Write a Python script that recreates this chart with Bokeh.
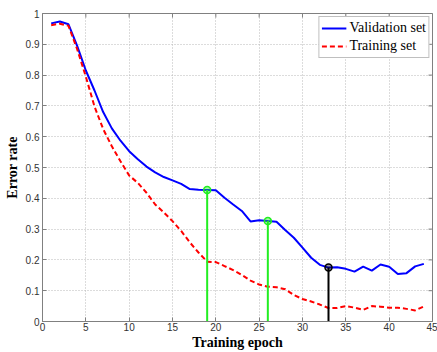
import math
from bokeh.plotting import figure
from bokeh.models import Range1d, FixedTicker, Legend, LegendItem
from bokeh.embed import file_html
from bokeh.resources import INLINE

epochs = list(range(1, 45))
validation = [0.968, 0.974, 0.965, 0.895, 0.815, 0.750, 0.680, 0.627, 0.587, 0.553,
              0.527, 0.503, 0.484, 0.469, 0.458, 0.447, 0.430, 0.428, 0.427, 0.426,
              0.402, 0.380, 0.359, 0.325, 0.329, 0.326, 0.324, 0.297, 0.272, 0.240,
              0.207, 0.184, 0.175, 0.176, 0.171, 0.162, 0.178, 0.165, 0.185, 0.178,
              0.154, 0.157, 0.179, 0.187]
training = [0.962, 0.967, 0.960, 0.884, 0.795, 0.698, 0.625, 0.569, 0.520, 0.474,
            0.450, 0.418, 0.380, 0.354, 0.326, 0.294, 0.257, 0.224, 0.194, 0.193,
            0.180, 0.167, 0.151, 0.133, 0.120, 0.113, 0.111, 0.105, 0.086, 0.073,
            0.065, 0.055, 0.044, 0.044, 0.050, 0.045, 0.038, 0.050, 0.048, 0.045,
            0.045, 0.041, 0.036, 0.049]
mark_epochs = [19, 26, 33]
mark_colors = ["#22ee22", "#22ee22", "#000000"]
x_ticks = [0, 5, 10, 15, 20, 25, 30, 35, 40, 45]
y_ticks = [0, 0.1, 0.2, 0.3, 0.4, 0.5, 0.6, 0.7, 0.8, 0.9, 1.0]
x_max = 45
y_max = 1

mark_vals = [validation[epochs.index(e)] for e in mark_epochs]
mark_zero = [0 for _ in mark_epochs]

p = figure(width=437, height=352, output_backend="svg", toolbar_location=None,
           x_range=Range1d(0, x_max), y_range=Range1d(0, y_max),
           min_border_left=42, min_border_right=5, min_border_top=13, min_border_bottom=29)
p.background_fill_color = "white"
p.border_fill_color = "white"
p.outline_line_color = "#808080"
p.outline_line_width = 1

for ax, ticks in ((p.xaxis[0], x_ticks), (p.yaxis[0], y_ticks)):
    ax.ticker = FixedTicker(ticks=ticks)
    ax.axis_line_color = "#808080"
    ax.major_tick_line_color = "#808080"
    ax.major_tick_in = 4
    ax.major_tick_out = 0
    ax.minor_tick_line_color = None
    ax.major_label_text_font = "Liberation Sans"
    ax.major_label_text_font_size = "10px"
    ax.major_label_text_color = "#333333"
    ax.axis_label_text_font = "Liberation Serif"
    ax.axis_label_text_font_style = "bold"
    ax.axis_label_text_font_size = "14px"
    ax.axis_label_text_color = "black"

p.xaxis[0].major_label_standoff = 1
p.xaxis[0].axis_label_standoff = 1
p.yaxis[0].major_label_standoff = 3
p.yaxis[0].axis_label_standoff = 3
p.xaxis[0].axis_label = "Training epoch"
p.yaxis[0].axis_label = "Error rate"
p.yaxis[0].major_label_overrides = {1.0: "1"}

# inward tick marks on the right and top borders (box on)
p.scatter([x_max] * len(y_ticks), y_ticks, marker="dash", size=8,
          line_color="#808080", line_width=1)
p.scatter(x_ticks, [y_max] * len(x_ticks), marker="dash", angle=math.pi / 2, size=8,
          line_color="#808080", line_width=1)

p.xgrid.ticker = FixedTicker(ticks=x_ticks)
p.ygrid.ticker = FixedTicker(ticks=y_ticks)
for g in (p.xgrid[0], p.ygrid[0]):
    g.grid_line_color = "#b8b8b8"
    g.grid_line_dash = "1 2"
    g.grid_line_width = 1

r_val = p.line(epochs, validation, line_color="#0000ff", line_width=2)
r_tr = p.line(epochs, training, line_color="#ff0000", line_width=2, line_dash="5 3")

p.segment(x0=mark_epochs, y0=mark_zero, x1=mark_epochs, y1=mark_vals,
          line_color=mark_colors, line_width=2)
p.scatter(mark_epochs, mark_vals, size=7, line_color=mark_colors, line_width=1.5,
          fill_color=mark_colors, fill_alpha=0.4)

legend = Legend(items=[LegendItem(label="Validation set", renderers=[r_val]),
                       LegendItem(label="Training set", renderers=[r_tr])],
                location="top_right")
legend.label_text_font = "Liberation Serif"
legend.label_text_font_size = "14px"
legend.label_text_color = "black"
legend.glyph_width = 25
legend.glyph_height = 18
legend.label_height = 18
legend.label_standoff = 3
legend.padding = 2
legend.spacing = 0
legend.margin = 3
legend.border_line_color = "#808080"
legend.border_line_width = 1
legend.background_fill_color = "white"
legend.background_fill_alpha = 1
p.add_layout(legend)

open("out.html", "w").write(file_html(p, INLINE))
